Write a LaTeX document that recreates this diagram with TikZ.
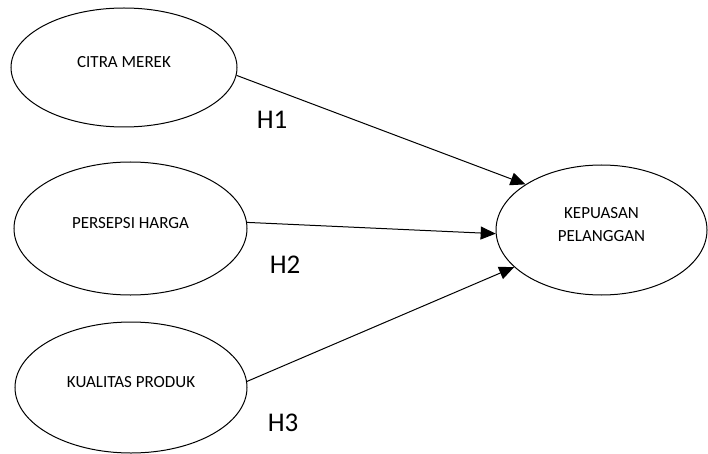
\documentclass[tikz,border=0pt]{standalone}
\usepackage{fontspec}
\setmainfont{Carlito}
\usetikzlibrary{shapes.geometric,arrows.meta}
\begin{document}
\begin{tikzpicture}[x=1pt,y=-1pt]
 \tikzset{latent/.style={draw,ellipse,line width=1pt,inner sep=0pt,text height=11pt,text depth=11pt,font=\fontsize{17}{23}\selectfont}}
 \tikzset{directed/.style={-{Triangle[length=15pt,width=13pt]}}}
 \tikzset{hyp/.style={font=\fontsize{27}{30}\selectfont}}
  \useasboundingbox (0,0) rectangle (708,454);
  \node[latent, minimum width=226pt, minimum height=119pt] (CM) at (124,67.5) {CITRA MEREK};
  \node[latent, minimum width=233pt, minimum height=133pt] (PH) at (130.5,228.5) {PERSEPSI HARGA};
  \node[latent, minimum width=232pt, minimum height=131pt] (KP) at (131,387.5) {KUALITAS PRODUK};
  \node[latent, minimum width=211pt, minimum height=130pt, align=center, text height=22pt, text depth=0pt] (KPL) at (601.5,230) {KEPUASAN\\PELANGGAN};
  \node[hyp] (H1) at (272,120) {H1};
  \node[hyp] (H2) at (285,265) {H2};
  \node[hyp] (H3) at (283,423) {H3};
  \draw[line width=1pt, directed] (CM.-4) -- (KPL.149);
  \draw[line width=1pt, directed] (PH.3) -- (KPL.182);
  \draw[line width=1pt, directed] (KP.3) -- (KPL.203);
\end{tikzpicture}
\end{document}
